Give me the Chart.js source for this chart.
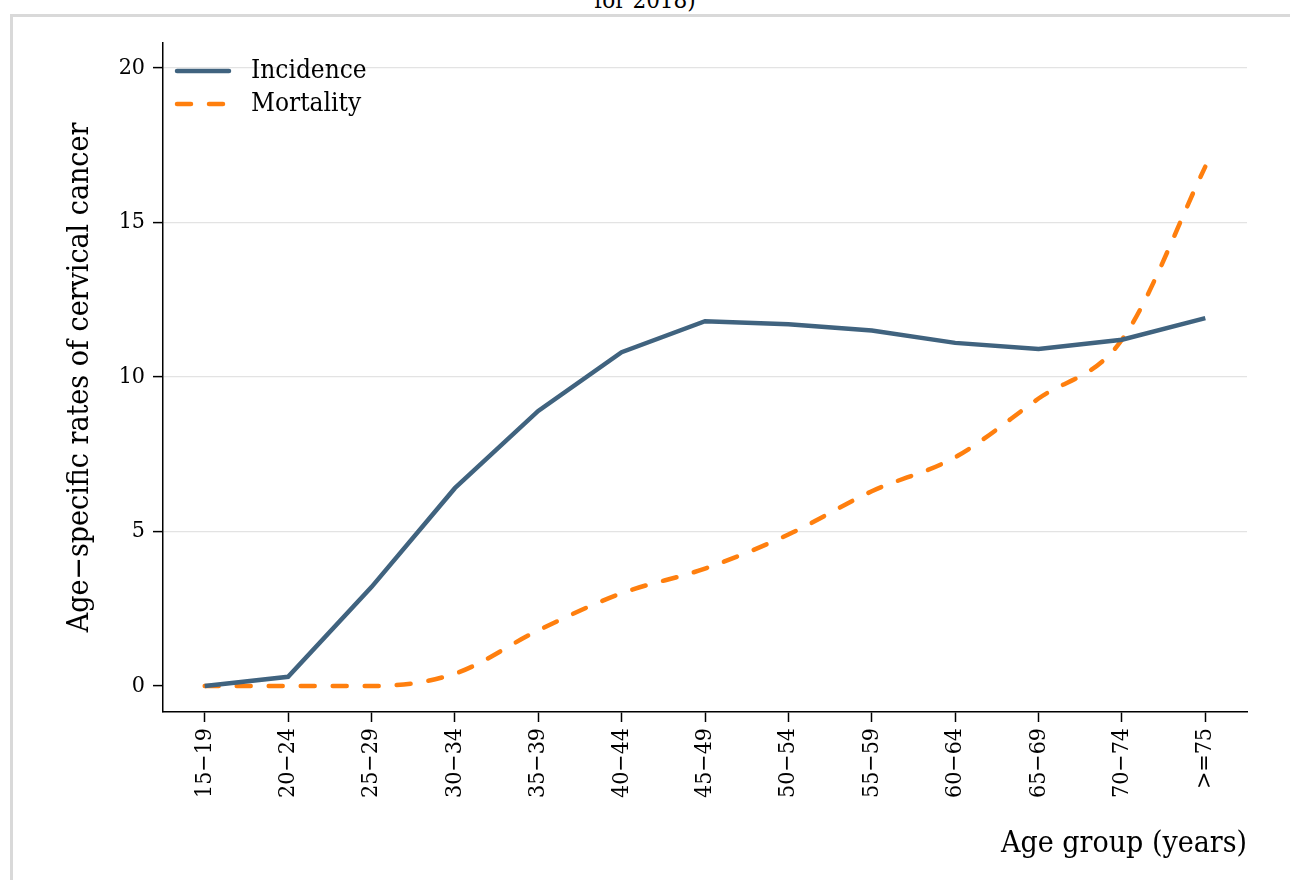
<!DOCTYPE html>
<html><head><meta charset="utf-8">
<script src="https://cdn.jsdelivr.net/npm/chart.js@4/dist/chart.umd.min.js"></script>
<style>
body{margin:0;background:#fff;overflow:hidden}
#frame{position:absolute;left:10px;top:14px;width:1300px;height:900px;border:3px solid #d9d9d9;box-sizing:border-box}
#ttl{position:absolute;left:0;width:1290px;top:-14px;text-align:center;font:24px "DejaVu Serif Condensed","DejaVu Serif";color:#000}
#wrap{position:absolute;left:0;top:0;width:1290px;height:880px}
</style></head><body>
<div id="ttl">for 2018)</div>
<div id="frame"></div>
<div id="wrap"><canvas id="c"></canvas></div>
<script>
const ageGroups = ['15\u221219','20\u221224','25\u221229','30\u221234','35\u221239','40\u221244','45\u221249','50\u221254','55\u221259','60\u221264','65\u221269','70\u221274','>=75'];
const incidence = [0, 0.3, 3.2, 6.4, 8.9, 10.8, 11.8, 11.7, 11.5, 11.1, 10.9, 11.2, 11.9];
const mortality = [0, 0, 0, 0.4, 1.8, 3.0, 3.8, 4.9, 6.3, 7.4, 9.3, 11.2, 16.8];
const yTicks = [0, 5, 10, 15, 20];

const font = '"DejaVu Serif Condensed", "DejaVu Serif", serif';
const legendInside = {
  id: 'legendInside',
  afterDraw(chart){
    const c = chart.ctx, a = chart.chartArea;
    chart.data.datasets.forEach((d, i) => {
      const y = a.top + 28 + i * 33;
      c.save();
      c.strokeStyle = d.borderColor; c.lineWidth = 4.5; c.lineCap = 'round';
      c.setLineDash(d.borderDash || []);
      c.beginPath(); c.moveTo(a.left + 14, y); c.lineTo(a.left + 66, y); c.stroke();
      c.setLineDash([]);
      c.fillStyle = '#000'; c.font = '26px ' + font; c.textBaseline = 'middle';
      c.fillText(d.label, a.left + 88, y);
      c.restore();
    });
  }
};

new Chart(document.getElementById('c'), {
  type: 'line',
  data: {
    labels: ageGroups,
    datasets: [
      {label: 'Incidence', data: incidence, borderColor: '#40637f', borderWidth: 4.5, pointRadius: 0, tension: 0},
      {label: 'Mortality', data: mortality, borderColor: '#ff7f0e', borderWidth: 4.5, borderDash: [14, 18], borderCapStyle: 'round', pointRadius: 0, cubicInterpolationMode: 'monotone'}
    ]
  },
  options: {
    responsive: true, maintainAspectRatio: false, animation: false,
    layout: {padding: {left: 58, right: 43, top: 43, bottom: 14}},
    plugins: {legend: {display: false}, tooltip: {enabled: false}},
    scales: {
      x: {
        offset: true,
        border: {color: '#000', width: 1.5},
        grid: {display: true, drawOnChartArea: false, drawTicks: true, tickLength: 10, tickColor: '#000', tickWidth: 1.5},
        ticks: {color: '#000', font: {family: font, size: 23}, maxRotation: 90, minRotation: 90, padding: 6},
        title: {display: true, text: 'Age group (years)', align: 'end', color: '#000', font: {family: font, size: 30}, padding: {top: 12}},
        afterFit(s){ s.height = 154; }
      },
      y: {
        min: -0.84, max: 20.8,
        afterBuildTicks(s){ s.ticks = yTicks.map(v => ({value: v})); },
        border: {color: '#000', width: 1.5},
        grid: {color: ctx => ctx.tick && ctx.tick.value === 0 ? 'rgba(0,0,0,0)' : '#e3e3e3', lineWidth: 1.2, tickLength: 10, tickColor: '#000', tickWidth: 1.5},
        ticks: {color: '#000', font: {family: font, size: 23}, padding: 8},
        title: {display: true, text: 'Age\u2212specific rates of cervical cancer', color: '#000', font: {family: font, size: 30}, padding: {bottom: 14}},
        afterFit(s){ s.width = 105; }
      }
    }
  },
  plugins: [legendInside]
});
</script>
</body></html>
